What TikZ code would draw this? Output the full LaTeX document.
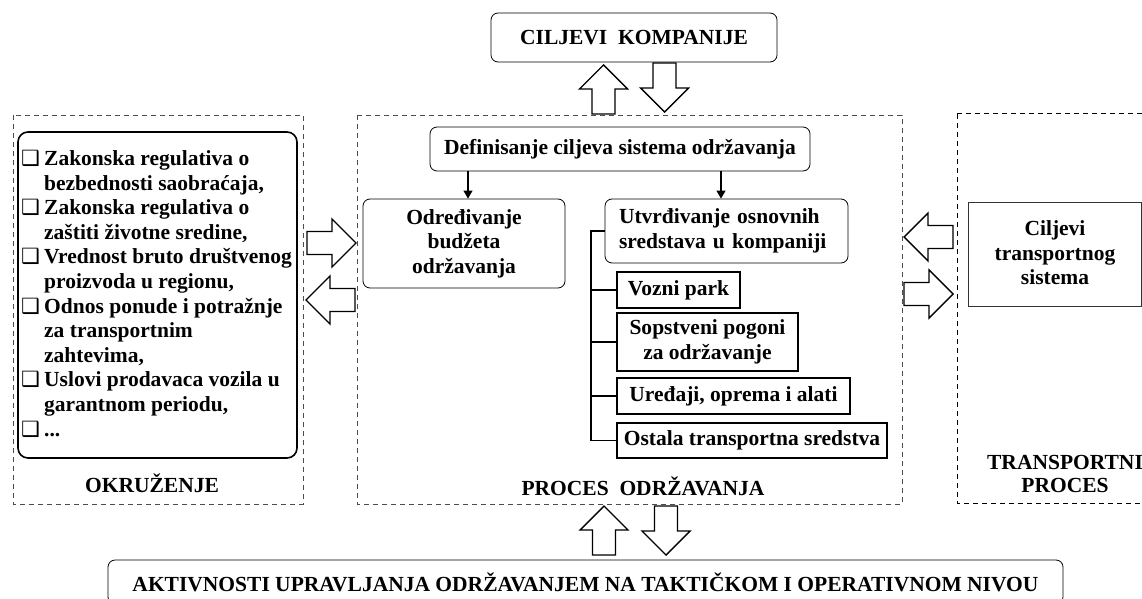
\documentclass[tikz,border=0pt]{standalone}
\usepackage{fontspec}
\setmainfont{Liberation Serif}
\newfontfamily\symfont{DejaVu Sans}
\usetikzlibrary{arrows.meta}
\newcommand{\mk}{\makebox[23pt][l]{\symfont\fontsize{21}{21}\selectfont ❑}}
\newcommand{\ind}{\hspace*{23pt}}
\tikzset{
  txt/.style={font=\bfseries\fontsize{21.5}{24.6}\selectfont, align=center, inner sep=0pt},
  rbox/.style={txt, draw, rounded corners=7pt, line width=0.8pt},
  sbox/.style={txt, draw, line width=1.1pt},
  dbox/.style={draw, dash pattern=on 5pt off 4pt, line width=0.8pt},
  thinarr/.style={line width=1.2pt, -{Triangle[length=8pt,width=9pt]}},
  tree/.style={line width=1.2pt},
  barrowline/.style={draw, fill=white, line width=1.4pt, line join=miter},
  blockarr/.pic={\path[barrowline] (0,-11.5) -- (25,-11.5) -- (25,-24) -- (49,0) -- (25,24) -- (25,11.5) -- (0,11.5) -- cycle;}
}
\begin{document}
\begin{tikzpicture}[x=1pt,y=-1pt]
\useasboundingbox (0,0) rectangle (1142,599);
% containers
\draw[dbox, gray!60!black] (13,115) rectangle (303,504);
\draw[dbox, gray!60!black] (357,115) rectangle (902,504);
\draw[dbox, black, line width=1pt] (957,114) rectangle (1160,503);
% top
\node[rbox, minimum width=286, minimum height=49] (ck) at (634,37.5) {CILJEVI\ \ KOMPANIJE};
% environment list
\node[draw, rounded corners=10pt, line width=1.6pt, minimum width=279, minimum height=326] (env) at (157.5,295) {};
\node[txt, align=left, anchor=north west] (list) at (21,150) {%
\mk Zakonska regulativa o\\
\ind bezbednosti saobraćaja,\\
\mk Zakonska regulativa o\\
\ind zaštiti životne sredine,\\
\mk Vrednost bruto društvenog\\
\ind proizvoda u regionu,\\
\mk Odnos ponude i potražnje\\
\ind za transportnim\\
\ind zahtevima,\\
\mk Uslovi prodavaca vozila u\\
\ind garantnom periodu,\\
\mk ...};
\node[txt] (okr) at (152,483) {OKRUŽENJE};
% process
\node[rbox, minimum width=380, minimum height=44] (def) at (620,149) {Definisanje ciljeva sistema održavanja};
\node[rbox, minimum width=202, minimum height=89] (odr) at (464,243.5) {Određivanje\\budžeta\\održavanja};
\node[rbox, minimum height=64, text width=215pt, inner xsep=14pt, align=left] (utv) at (726.5,231) {Utvrđivanje osnovnih\\sredstava u kompaniji};
\node[sbox, minimum width=123, minimum height=36] (vp) at (678.5,290) {Vozni park};
\node[sbox, minimum width=181, minimum height=58] (sp) at (707.5,342) {Sopstveni pogoni\\za održavanje};
\node[sbox, minimum width=233, minimum height=36] (ur) at (733.5,396) {Uređaji, oprema i alati};
\node[sbox, minimum width=270, minimum height=35] (os) at (752,440.5) {Ostala transportna sredstva};
\node[txt] (pro) at (643,486) {PROCES\ \ ODRŽAVANJA};
\coordinate (a1) at (468,0);
\coordinate (a2) at (721,0);
\coordinate (tr) at (591,0);
\draw[thinarr] (def.south -| a1) -- (odr.north -| a1);
\draw[thinarr] (def.south -| a2) -- (utv.north -| a2);
\draw[tree] (utv.west) -- (utv.west -| tr) -- (os.west -| tr) -- (os.west);
\draw[tree] (vp.west -| tr) -- (vp.west);
\draw[tree] (sp.west -| tr) -- (sp.west);
\draw[tree] (ur.west -| tr) -- (ur.west);
% transport
\node[draw, line width=0.8pt, gray!40!black, minimum width=173, minimum height=104] (ct) at (1054.5,254) {};
\node[txt] (ctt) at (1055,253) {Ciljevi\\transportnog\\sistema};
\node[txt, font=\bfseries\fontsize{21.5}{23}\selectfont] (tp) at (1065,473.5) {TRANSPORTNI\\PROCES};
% bottom
\node[rbox, minimum width=955, minimum height=44] (ak) at (585.5,582) {AKTIVNOSTI UPRAVLJANJA ODRŽAVANJEM NA TAKTIČKOM I OPERATIVNOM NIVOU};
% block arrows
\pic[rotate=90] at (603.5,114) {blockarr};
\pic[rotate=-90] at (664.5,63) {blockarr};
\pic at (307,243) {blockarr};
\pic[rotate=180] at (355,300) {blockarr};
\pic[rotate=180] at (953,237) {blockarr};
\pic at (904,294) {blockarr};
\pic[rotate=90] at (604,555) {blockarr};
\pic[rotate=-90] at (666,506) {blockarr};
\end{tikzpicture}
\end{document}
